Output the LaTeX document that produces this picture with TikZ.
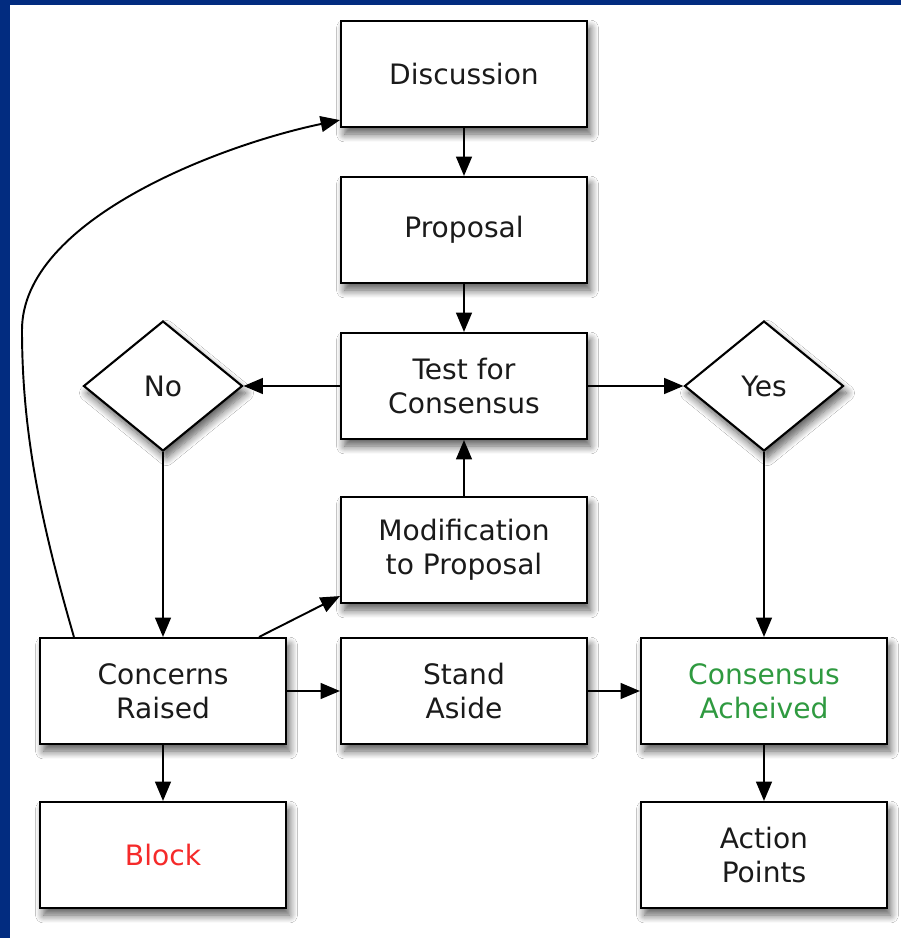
\documentclass[tikz,border=0pt]{standalone}
\usepackage{fontspec}
\setmainfont{DejaVu Sans}
\usepackage{xcolor}
\usepackage{tikz}
\usetikzlibrary{calc,arrows.meta,shapes.geometric,shadows.blur}
\definecolor{frame}{HTML}{022C80}
\definecolor{ink}{HTML}{1A1A1A}
\definecolor{blockred}{HTML}{F52A2A}
\definecolor{okgreen}{HTML}{2F9A40}
\tikzset{
  shade/.style={blur shadow={shadow xshift=2pt, shadow yshift=-4pt, shadow blur steps=10, shadow opacity=65, shadow blur radius=4.5pt}},
  box/.style={draw=black, fill=white, line width=1.2pt, minimum width=4.92cm, minimum height=2.12cm,
    align=center, text=ink, font=\fontsize{16}{19.5}\selectfont, shade},
  choice/.style={diamond, draw=black, fill=white, line width=1.2pt, inner sep=0pt, minimum width=3.18cm,
    minimum height=2.6cm, text=ink, font=\fontsize{16}{19.5}\selectfont, shade},
  arr/.style={draw=black, line width=1.1pt, -{Triangle[length=11pt, width=9pt]}},
}
\begin{document}
\begin{tikzpicture}
  \useasboundingbox (0,0) rectangle (18.02,-18.76);
  \fill[frame] (0,0) rectangle (18.02,-18.76);
  \fill[white] (0.2,-0.1) rectangle (18.02,-18.76);

  % middle column
  \node[box] (disc) at (9.28,-1.48) {Discussion};
  \node[box] (prop) at (9.28,-4.6) {Proposal};
  \node[box] (test) at (9.28,-7.72) {Test for\\Consensus};
  \node[box] (modif) at (9.28,-11.0) {Modification\\to Proposal};
  \node[box] (stand) at (9.28,-13.82) {Stand\\Aside};

  % sides
  \node[choice] (no) at (3.26,-7.72) {No};
  \node[choice] (yes) at (15.28,-7.72) {Yes};
  \node[box] (concern) at (3.26,-13.82) {Concerns\\Raised};
  \node[box, text=okgreen] (agreed) at (15.28,-13.82) {Consensus\\Acheived};
  \node[box, text=blockred] (block) at (3.26,-17.1) {Block};
  \node[box] (action) at (15.28,-17.1) {Action\\Points};

  \draw[arr] (disc) -- (prop);
  \draw[arr] (prop) -- (test);
  \draw[arr] (test) -- (no);
  \draw[arr] (test) -- (yes);
  \draw[arr] (modif) -- (test);
  \draw[arr] (no) -- (concern);
  \draw[arr] (yes) -- (agreed);
  \draw[arr] (concern) -- (stand);
  \draw[arr] (stand) -- (agreed);
  \draw[arr] (concern) -- (block);
  \draw[arr] (agreed) -- (action);
  \draw[arr] ($(concern.north east)+(-0.56,0)$) -- ($(modif.south west)+(0,0.16)$);

  % loop back to discussion
  \coordinate (bend) at (0.44,-6.6);
  \draw[arr] ($(concern.north west)+(0.7,0)$) .. controls (0.8,-10.4) and (0.44,-8.6) .. (bend)
    .. controls (0.44,-4.4) and (4.4,-2.9) .. ($(disc.south west)+(0,0.16)$);
\end{tikzpicture}
\end{document}
